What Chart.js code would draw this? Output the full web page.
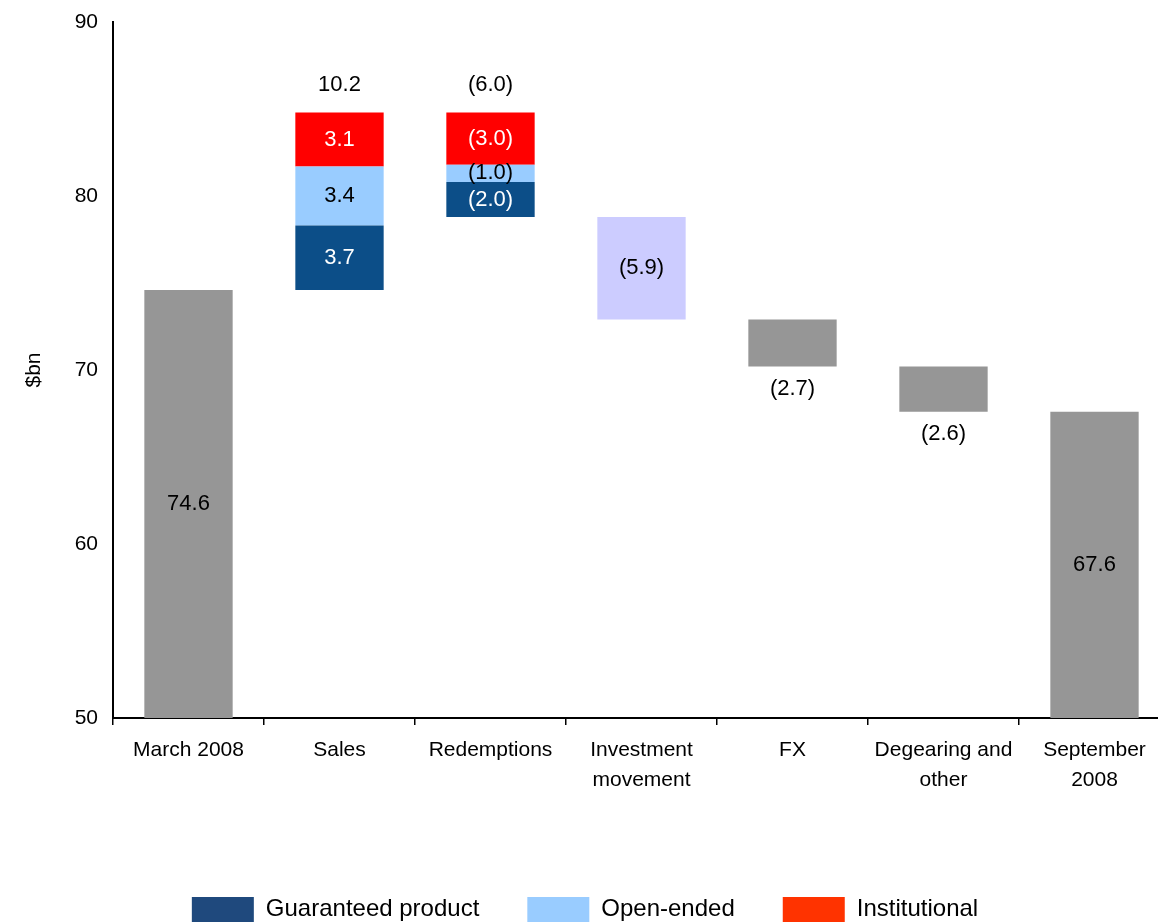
<!DOCTYPE html>
<html>
<head>
<meta charset="utf-8">
<title>Funds under management</title>
<script src="https://cdn.jsdelivr.net/npm/chart.js@4.4.1/dist/chart.umd.min.js"></script>
<style>
  html, body { margin: 0; padding: 0; overflow: hidden; background: #fff; }
</style>
</head>
<body>
<canvas id="chart" width="1172" height="932"></canvas>
<script>
// Данные графика
const categories = [["March 2008"], ["Sales"], ["Redemptions"], ["Investment", "movement"], ["FX"], ["Degearing and", "other"], ["September", "2008"]];
const openingAum = 74.6;
const closingAum = 67.6;
const guaranteed = [null, 3.7, -2.0, null, null, null, null];
const openEnded = [null, 3.4, -1.0, null, null, null, null];
const institutional = [null, 3.1, -3.0, null, null, null, null];
const investment = [null, null, null, -5.9, null, null, null];
const otherMoves = [null, null, null, null, -2.7, -2.6, null];
const legendNames = ["Guaranteed product", "Open-ended", "Institutional"];

// Где писать итог по шагу
const totalLabelPos = ["inside", "above", "above", "inside", "below", "below", "inside"];

const FONT = "'Liberation Sans', Arial, sans-serif";
const GRAY = "#969696";
const barColors = { guaranteed: "#0C4E88", openEnded: "#99CCFF", institutional: "#FF0000", investment: "#CCCCFF" };
const legendColors = ["#1F497D", "#99CCFF", "#FF3300"];

const r1 = v => Math.round(v * 10) / 10;
const fmt = v => v < 0 ? "(" + Math.abs(v).toFixed(1) + ")" : v.toFixed(1);

// Строим плавающие столбцы водопада
const grayBars = [], guarBars = [], openBars = [], instBars = [], invBars = [];
const stepTotal = [], stepRange = [];
let level = openingAum;
const last = categories.length - 1;
categories.forEach((c, i) => {
  const rows = [guarBars, openBars, instBars, invBars, grayBars];
  rows.forEach(r => r.push(null));
  if (i === 0 || i === last) {
    const v = i === 0 ? openingAum : closingAum;
    grayBars[i] = [0, v];
    stepTotal.push(v);
    stepRange.push([0, v]);
    return;
  }
  const series = [guaranteed, openEnded, institutional, investment, otherMoves];
  let total = 0;
  series.forEach(s => { if (s[i] !== null) total += s[i]; });
  total = r1(total);
  const bottom = r1(Math.min(level, level + total));
  let cursor = bottom;
  series.forEach((s, k) => {
    if (s[i] === null) return;
    const next = r1(cursor + Math.abs(s[i]));
    rows[k][i] = [cursor, next];
    cursor = next;
  });
  stepTotal.push(total);
  stepRange.push([bottom, r1(bottom + Math.abs(total))]);
  level = r1(level + total);
});

// Подписи значений
const labelsPlugin = {
  id: "waterfallLabels",
  afterDatasetsDraw(chart) {
    const ctx = chart.ctx;
    const area = chart.chartArea;
    const y = chart.scales.y;
    ctx.save();
    ctx.font = "22px " + FONT;
    ctx.textAlign = "center";
    ctx.textBaseline = "middle";
    chart.data.datasets.forEach((ds, di) => {
      const meta = chart.getDatasetMeta(di);
      meta.data.forEach((el, i) => {
        if (ds.data[i] === null) return;
        let text;
        if (ds.segLabels) {
          text = fmt(ds.src[i]);
        } else if (totalLabelPos[i] === "inside") {
          text = fmt(stepTotal[i]);
        } else {
          return;
        }
        const top = Math.max(Math.min(el.y, el.base), area.top);
        const bot = Math.min(Math.max(el.y, el.base), area.bottom);
        ctx.fillStyle = ds.labelColor;
        ctx.fillText(text, el.x, (top + bot) / 2);
      });
    });
    // итоги над и под столбцами
    const xs = chart.scales.x;
    ctx.fillStyle = "#000";
    stepTotal.forEach((t, i) => {
      const x = xs.getPixelForValue(i);
      if (totalLabelPos[i] === "above") {
        ctx.fillText(fmt(t), x, y.getPixelForValue(stepRange[i][1]) - 28);
      } else if (totalLabelPos[i] === "below") {
        ctx.fillText(fmt(t), x, y.getPixelForValue(stepRange[i][0]) + 22);
      }
    });
    ctx.restore();
  }
};

const common = { grouped: false, barPercentage: 0.585, categoryPercentage: 1, borderWidth: 0 };

new Chart(document.getElementById("chart").getContext("2d"), {
  type: "bar",
  data: {
    labels: categories,
    datasets: [
      Object.assign({ label: "Total", data: grayBars, backgroundColor: GRAY, labelColor: "#000" }, common),
      Object.assign({ label: legendNames[0], data: guarBars, src: guaranteed, segLabels: true, backgroundColor: barColors.guaranteed, labelColor: "#fff" }, common),
      Object.assign({ label: legendNames[1], data: openBars, src: openEnded, segLabels: true, backgroundColor: barColors.openEnded, labelColor: "#000" }, common),
      Object.assign({ label: legendNames[2], data: instBars, src: institutional, segLabels: true, backgroundColor: barColors.institutional, labelColor: "#fff" }, common),
      Object.assign({ label: "Investment movement", data: invBars, backgroundColor: barColors.investment, labelColor: "#000" }, common)
    ]
  },
  options: {
    responsive: false,
    animation: false,
    layout: { padding: { top: 22, right: 2, left: 0, bottom: 0 } },
    scales: {
      x: {
        offset: true,
        grid: { display: true, offset: true, drawOnChartArea: false, drawTicks: true, tickLength: 7, color: "#000", lineWidth: 1.5 },
        border: { display: true, color: "#000", width: 2 },
        ticks: { color: "#000", font: { family: FONT, size: 21, lineHeight: 1.43 }, padding: 10, maxRotation: 0, autoSkip: false },
        afterFit: s => { s.height = 131; }
      },
      y: {
        min: 50,
        max: 90,
        grid: { display: false, drawTicks: false },
        border: { display: true, color: "#000", width: 2 },
        ticks: { stepSize: 10, color: "#000", font: { family: FONT, size: 21 }, padding: 15 },
        title: { display: true, text: "$bn", color: "#000", font: { family: FONT, size: 21 }, padding: { top: 22, bottom: 0 } },
        afterFit: s => { s.width = 113; s.paddingTop = 0; s.paddingBottom = 0; }
      }
    },
    plugins: {
      tooltip: { enabled: false },
      legend: {
        position: "bottom",
        onClick: null,
        labels: {
          boxWidth: 62,
          boxHeight: 25,
          padding: 48,
          color: "#000",
          font: { family: FONT, size: 24 },
          generateLabels: () => legendNames.map((t, i) => ({
            text: t, fillStyle: legendColors[i], strokeStyle: legendColors[i], lineWidth: 0, hidden: false, datasetIndex: i + 1
          }))
        }
      }
    }
  },
  plugins: [labelsPlugin]
});
</script>
</body>
</html>
